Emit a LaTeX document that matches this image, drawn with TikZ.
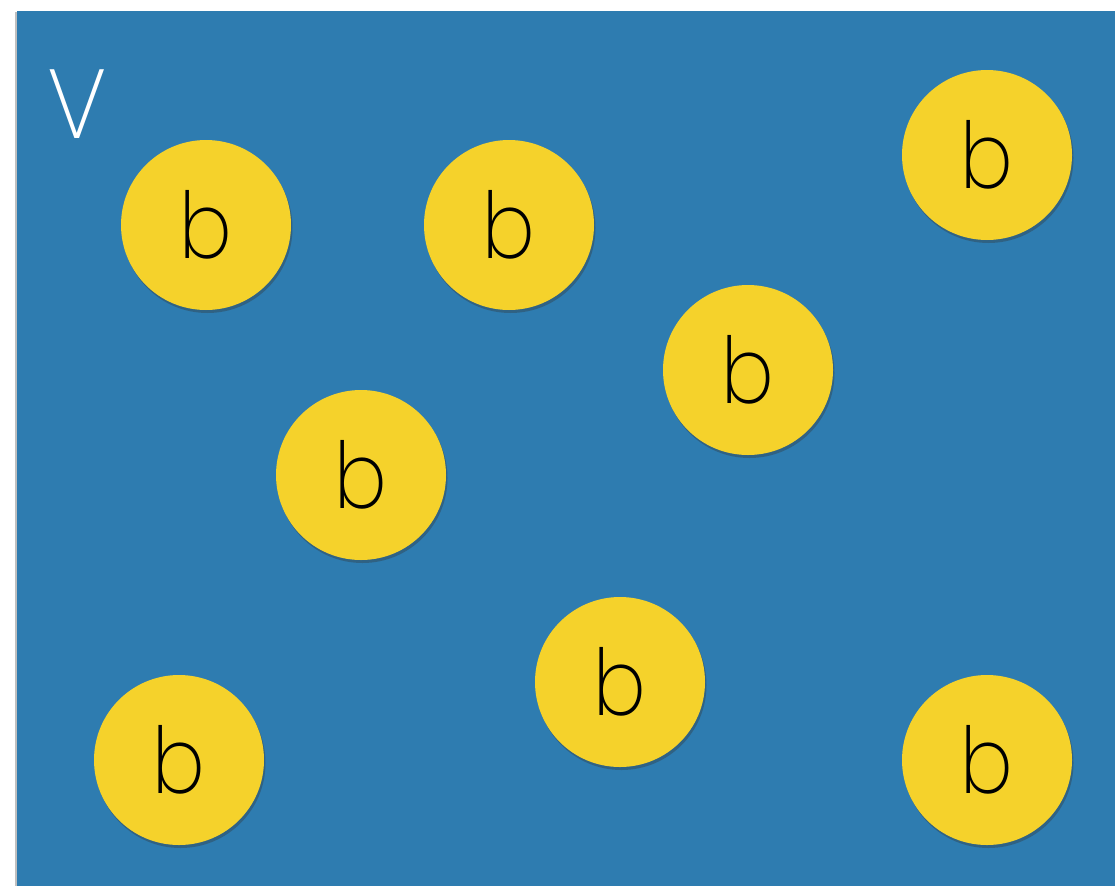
\documentclass[tikz,border=0pt]{standalone}
\usepackage{fontspec}
\setmainfont{Poppins}[UprightFont=* ExtraLight, FakeStretch=0.85]
\newfontfamily\vfont{Poppins}[UprightFont=* ExtraLight, FakeStretch=0.95]
\usetikzlibrary{shadows}
\definecolor{bluebg}{HTML}{2E7CB0}
\definecolor{ball}{HTML}{F5D22B}
\tikzset{
  ballnode/.style={circle, fill=ball, minimum size=170pt, inner sep=0pt,
    font=\fontsize{92}{92}\selectfont, text=black,
    drop shadow={shadow xshift=1.5pt, shadow yshift=-3pt, opacity=0.35, fill=black!80}},
}
\begin{document}
\begin{tikzpicture}[x=1pt,y=-1pt]
\useasboundingbox (0,0) rectangle (1115,886);
\fill[white] (0,0) rectangle (1115,886);
\fill[black!25] (15,12) rectangle (18,886);
\fill[bluebg] (17,11) rectangle (1115,886);
\node[text=white, font=\vfont\fontsize{98}{98}\selectfont, anchor=base] (V) at (77,138) {V};
\node[ballnode] (b1) at (206,225) {b};
\node[ballnode] (b2) at (509,225) {b};
\node[ballnode] (b3) at (987,155) {b};
\node[ballnode] (b4) at (748,370) {b};
\node[ballnode] (b5) at (361,475) {b};
\node[ballnode] (b6) at (620,682) {b};
\node[ballnode] (b7) at (179,760) {b};
\node[ballnode] (b8) at (987,760) {b};
\end{tikzpicture}
\end{document}
